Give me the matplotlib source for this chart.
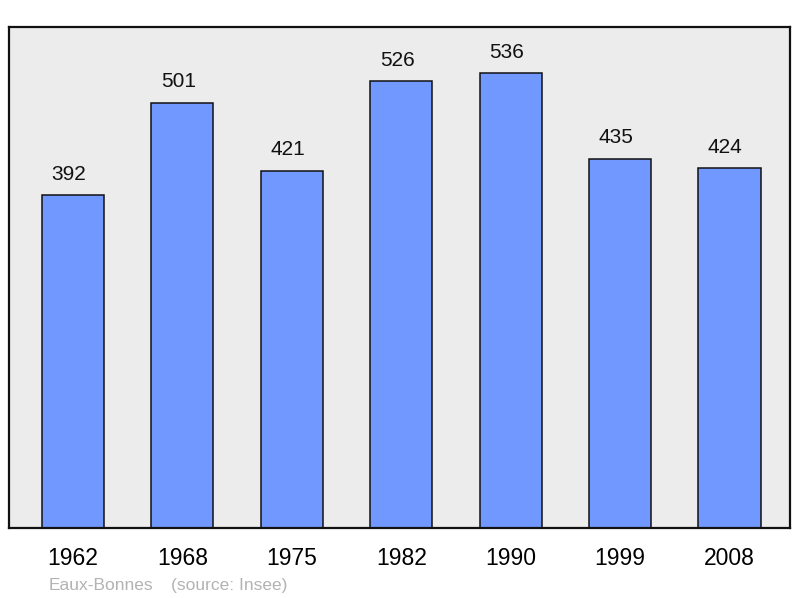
import matplotlib
matplotlib.use("Agg")
import matplotlib.pyplot as plt

years = ["1962", "1968", "1975", "1982", "1990", "1999", "2008"]
population = [392, 501, 421, 526, 536, 435, 424]
footer_name = "Eaux-Bonnes"
footer_source = "(source: Insee)"

plt.rcParams['font.family'] = ['Liberation Sans', 'DejaVu Sans']

fig = plt.figure(figsize=(8, 5.98), dpi=100)
ax = fig.add_axes([9/800, 1-528/598, 781/800, 501/598])
ax.set_facecolor('#ececec')
x = list(range(len(years)))
ax.bar(x, population, width=0.567, color='#7198ff', edgecolor='#111111', linewidth=1.1, zorder=2)
for xi, v in zip(x, population):
    ax.annotate(str(v), (xi, v), xytext=(-3, 15), textcoords='offset points',
                ha='center', va='center', fontsize=15, color='#111111')
ax.set_xlim(-0.585, 6.553)
ax.set_ylim(0, 590)
ax.set_xticks(x)
ax.set_xticklabels(years, fontsize=16.5)
ax.tick_params(axis='x', length=0, pad=14)
ax.set_yticks([])
for s in ax.spines.values():
    s.set_linewidth(1.6)
    s.set_color('#111111')
fig.text(49/800, 1-585.5/598, footer_name, fontsize=12.5, color='#b3b3b3', va='center', ha='left')
fig.text(171/800, 1-585.5/598, footer_source, fontsize=12.5, color='#b3b3b3', va='center', ha='left')
fig.savefig("out.png", dpi=100)
